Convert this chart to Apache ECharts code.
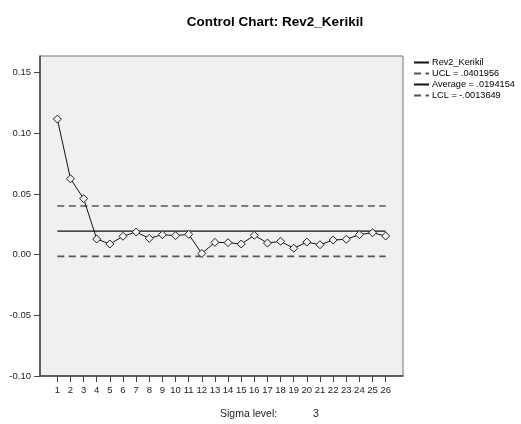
<!DOCTYPE html>
<html><head><meta charset="utf-8">
<script src="https://cdn.jsdelivr.net/npm/echarts@6/dist/echarts.min.js"></script>
<style>html,body{margin:0;padding:0;background:#fff}#c{width:521px;height:424px}</style>
</head><body><div id="c"></div>
<script>
const categories = [1,2,3,4,5,6,7,8,9,10,11,12,13,14,15,16,17,18,19,20,21,22,23,24,25,26];
const values = [0.1118,0.0626,0.0462,0.0129,0.0088,0.0152,0.0187,0.0135,0.0165,0.0157,0.0168,0.0010,0.0102,0.0099,0.0088,0.0160,0.0096,0.0110,0.0053,0.0104,0.0082,0.0121,0.0127,0.0165,0.0181,0.0154];
const ucl = 0.0401956, avg = 0.0194154, lcl = -0.0013649;
const yTicks = [-0.10,-0.05,0.00,0.05,0.10,0.15];
const seriesName = 'Rev2_Kerikil';
const uclName = 'UCL = .0401956', avgName = 'Average = .0194154', lclName = 'LCL = -.0013649';
const sigma = 3;

const font = 'Arial, "Liberation Sans", sans-serif';
const chart = echarts.init(document.getElementById('c'), null, {renderer:'canvas'});
const first = categories[0], last = categories[categories.length-1];
chart.setOption({
  animation:false,
  backgroundColor:'#fff',
  title:{text:'Control Chart: ' + seriesName, left:270, top:10, textAlign:'center',
    textStyle:{fontFamily:font, fontSize:13.5, fontWeight:'bold', color:'#000'}},
  legend:{orient:'vertical', left:413, top:57, padding:0, itemWidth:15, itemHeight:8, itemGap:0,
    itemStyle:{opacity:0},
    textStyle:{fontFamily:font, fontSize:9.2, lineHeight:11, color:'#000', padding:[0,0,0,-2]},
    data:[seriesName, uclName, avgName, lclName]},
  grid:{left:40, top:56, right:118, bottom:48, show:true, backgroundColor:'#f0f0f0', borderColor:'#777', borderWidth:1},
  xAxis:{type:'value', min:-0.32, max:27.32,
    axisLine:{show:true, onZero:false, lineStyle:{color:'#444', width:1.5}},
    axisTick:{show:true, length:6, customValues:categories, lineStyle:{color:'#444'}},
    axisLabel:{customValues:categories, margin:9, fontFamily:font, fontSize:9.5, color:'#222', formatter:v=>String(v)},
    splitLine:{show:false}},
  yAxis:{type:'value', min:-0.1, max:0.1638,
    axisLine:{show:true, onZero:false, lineStyle:{color:'#444', width:1.5}},
    axisTick:{show:true, length:6, customValues:yTicks, lineStyle:{color:'#444'}},
    axisLabel:{customValues:yTicks, margin:9, fontFamily:font, fontSize:9.5, color:'#222', formatter:v=>v.toFixed(2)},
    splitLine:{show:false}},
  series:[
    {name:seriesName, type:'line', data:categories.map((c,i)=>[c, values[i]]),
      symbol:'diamond', symbolSize:8, lineStyle:{color:'#111', width:1},
      itemStyle:{color:'#f0f0f0', borderColor:'#222', borderWidth:1}, z:5},
    {name:uclName, type:'line', data:[[first,ucl],[last,ucl]], symbol:'none',
      lineStyle:{color:'#555', width:1.6, type:[7,4.5]}},
    {name:avgName, type:'line', data:[[first,avg],[last,avg]], symbol:'none',
      lineStyle:{color:'#111', width:1.3}},
    {name:lclName, type:'line', data:[[first,lcl],[last,lcl]], symbol:'none',
      lineStyle:{color:'#555', width:1.6, type:[7,4.5]}}
  ],
  graphic:[
    {type:'text', left:220, top:409, style:{text:'Sigma level:', font:'10.5px ' + font, fill:'#222'}},
    {type:'text', left:313, top:409, style:{text:String(sigma), font:'10.5px ' + font, fill:'#222'}}
  ]
});
</script></body></html>
